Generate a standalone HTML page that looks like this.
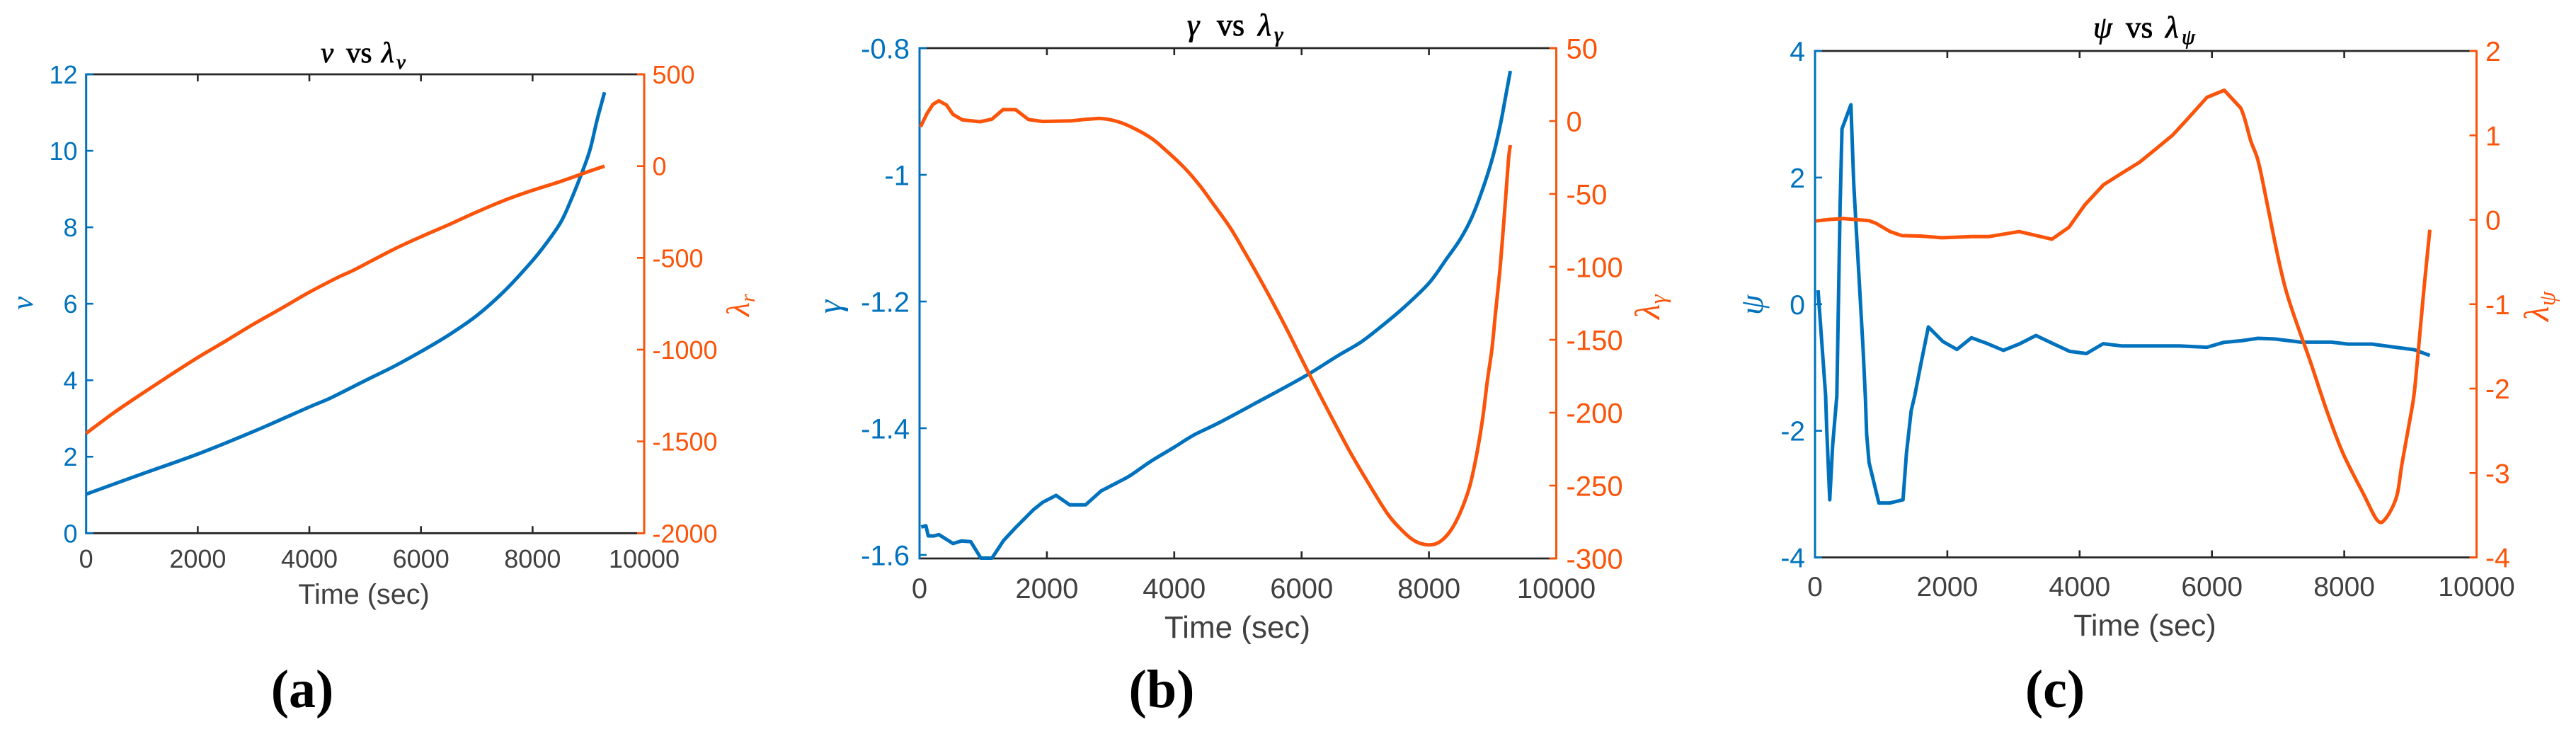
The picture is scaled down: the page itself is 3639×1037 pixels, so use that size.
<!DOCTYPE html>
<html lang="en">
<head>
<meta charset="utf-8">
<title>State and costate histories</title>
<style>
html,body{margin:0;padding:0;background:#fff;width:3639px;height:1037px;overflow:hidden}
svg{display:block;position:absolute;left:0;top:0}
text{font-family:"Liberation Sans",Arial,sans-serif}
.m{font-family:"Liberation Serif","DejaVu Serif",serif}
.i{font-style:italic}
</style>
</head>
<body>
<svg id="figure" xmlns="http://www.w3.org/2000/svg" width="3639" height="1037" viewBox="0 0 3639 1037">
  <rect width="3639" height="1037" fill="#fff"/>

  <text class="m" y="88" font-size="41" fill="#000" stroke="#000" stroke-width=".8"><tspan class="i" x="453">v</tspan><tspan x="489">vs</tspan><tspan class="i" x="539">λ</tspan><tspan class="i" x="560" dy="9" font-size="29">v</tspan></text>
  <text class="m" y="50" font-size="44" fill="#000" stroke="#000" stroke-width=".8"><tspan class="i" x="1677">γ</tspan><tspan x="1719">vs</tspan><tspan class="i" x="1777">λ</tspan><tspan class="i" x="1800" dy="9" font-size="31">γ</tspan></text>
  <text class="m" y="53" font-size="43" fill="#000" stroke="#000" stroke-width=".8"><tspan class="i" x="2957">ψ</tspan><tspan x="3003">vs</tspan><tspan class="i" x="3059">λ</tspan><tspan class="i" x="3082" dy="9" font-size="30">ψ</tspan></text>

  <text class="m i" transform="translate(46 438) rotate(-90)" font-size="43" fill="#0072bd">v</text>
  <text class="m i" transform="translate(1058 447) rotate(-90)" font-size="46" fill="#fb540a">λ<tspan dy="8" font-size="30">r</tspan></text>
  <text class="m i" transform="translate(1188 443) rotate(-90)" font-size="48" fill="#0072bd">γ</text>
  <text class="m i" transform="translate(2344 451) rotate(-90)" font-size="50" fill="#fb540a">λ<tspan dy="9" font-size="33">γ</tspan></text>
  <text class="m i" transform="translate(2490 445) rotate(-90)" font-size="46" fill="#0072bd">ψ</text>
  <text class="m i" transform="translate(3600 454) rotate(-90)" font-size="50" fill="#fb540a">λ<tspan dy="9" font-size="33">ψ</tspan></text>

  <text x="514" y="853" text-anchor="middle" font-size="39.6" fill="#404040">Time (sec)</text>
  <text x="1748" y="901" text-anchor="middle" font-size="44" fill="#404040">Time (sec)</text>
  <text x="3030" y="898" text-anchor="middle" font-size="43" fill="#404040">Time (sec)</text>

  <text class="m" x="427" y="999" text-anchor="middle" font-size="76" font-weight="700" fill="#000">(a)</text>
  <text class="m" x="1641" y="999" text-anchor="middle" font-size="76" font-weight="700" fill="#000">(b)</text>
  <text class="m" x="2903" y="999" text-anchor="middle" font-size="76" font-weight="700" fill="#000">(c)</text>
</svg>
<script>
const xTickValues = [0, 2000, 4000, 6000, 8000, 10000];

const vTicks = [0, 2, 4, 6, 8, 10, 12];
const lambdaVTicks = [-2000, -1500, -1000, -500, 0, 500];
const gammaTicks = [-1.6, -1.4, -1.2, -1, -0.8];
const lambdaGammaTicks = [-300, -250, -200, -150, -100, -50, 0, 50];
const psiTicks = [-4, -2, 0, 2, 4];
const lambdaPsiTicks = [-4, -3, -2, -1, 0, 1, 2];

const vTime = [0, 1000, 2000, 3000, 4000, 4385, 5000, 5500, 6000, 6495, 7000, 7500, 8000, 8266, 8500, 8650, 8880, 9030, 9155, 9290];
const vValues = [1.02, 1.55, 2.07, 2.66, 3.3, 3.54, 3.99, 4.35, 4.75, 5.18, 5.69, 6.34, 7.13, 7.62, 8.12, 8.58, 9.41, 10.03, 10.8, 11.53];

const lambdaVTime = [0, 500, 1000, 1500, 2000, 2500, 3000, 3500, 4000, 4500, 4806, 5500, 6000, 6500, 7000, 7500, 8000, 8500, 9000, 9290];
const lambdaVValues = [-1456, -1343, -1240, -1140, -1043, -953, -861, -775, -687, -608, -565, -455, -385, -319, -250, -186, -132, -84, -30, 0];

const gammaTime = [26, 100, 137, 230, 304, 526, 656, 804, 963, 1137, 1322, 1507, 1785, 1933, 2144, 2359, 2607, 2852, 3119, 3304, 3637, 4000, 4304, 4711, 5341, 5711, 6119, 6563, 6933, 7267, 7600, 8000, 8267, 8489, 8674, 8859, 9007, 9119, 9211, 9278];
const gammaValues = [-1.556, -1.554, -1.57, -1.57, -1.568, -1.582, -1.578, -1.579, -1.605, -1.605, -1.577, -1.557, -1.529, -1.517, -1.506, -1.521, -1.521, -1.499, -1.485, -1.475, -1.452, -1.43, -1.411, -1.391, -1.357, -1.337, -1.314, -1.286, -1.264, -1.238, -1.21, -1.171, -1.134, -1.102, -1.067, -1.018, -0.97, -0.922, -0.873, -0.836];

const lambdaGammaTime = [15, 119, 211, 304, 422, 526, 674, 952, 1137, 1311, 1507, 1711, 1933, 2378, 2600, 2822, 3081, 3341, 3637, 3859, 4156, 4396, 4600, 4878, 5119, 5341, 5563, 5785, 6081, 6415, 6748, 7007, 7341, 7563, 7767, 7970, 8156, 8333, 8489, 8637, 8748, 8841, 8915, 8989, 9044, 9119, 9193, 9248, 9278];
const lambdaGammaValues = [-4, 5.3, 11.5, 13.9, 11, 4.5, 0.8, -0.5, 1.3, 7.8, 7.8, 1, -0.3, 0.1, 1.1, 1.8, 0, -4.4, -11.7, -19.7, -31.9, -44, -56.1, -73.1, -90.9, -107.9, -125.7, -144.3, -170.2, -198.5, -225.9, -245.3, -268.8, -280.1, -287.7, -290.6, -289, -281.3, -268.8, -251, -229.1, -204.9, -179, -156.3, -132.2, -99.8, -59.4, -27, -16.5];

const psiTime = [46, 160, 177, 223, 266, 330, 379, 408, 543, 585, 631, 674, 727, 762, 780, 816, 965, 1135, 1330, 1383, 1454, 1507, 1596, 1713, 1933, 2145, 2365, 2589, 2848, 3085, 3340, 3582, 3848, 4103, 4355, 4645, 5011, 5513, 5925, 6176, 6444, 6695, 6946, 7341, 7806, 8057, 8416, 8774, 9061, 9294];
const psiValues = [0.22, -1.45, -1.97, -3.09, -2.23, -1.45, 1.53, 2.77, 3.15, 1.9, 1.04, 0.26, -0.71, -1.49, -2.05, -2.5, -3.14, -3.14, -3.09, -2.35, -1.68, -1.45, -0.97, -0.36, -0.59, -0.715, -0.53, -0.615, -0.73, -0.63, -0.495, -0.615, -0.745, -0.78, -0.625, -0.66, -0.66, -0.66, -0.68, -0.604, -0.577, -0.54, -0.55, -0.6, -0.6, -0.63, -0.63, -0.68, -0.72, -0.81];

const lambdaPsiTime = [10, 213, 426, 816, 922, 1135, 1312, 1596, 1915, 2376, 2624, 3085, 3582, 3837, 4078, 4362, 4645, 4903, 5190, 5405, 5620, 5925, 6186, 6434, 6588, 6695, 6803, 6946, 7054, 7143, 7305, 7484, 7735, 7983, 8292, 8500, 8625, 8792, 8875, 9018, 9061, 9122, 9204, 9294];
const lambdaPsiValues = [-0.014, 0.003, 0.014, -0.011, -0.042, -0.14, -0.188, -0.193, -0.213, -0.2, -0.2, -0.14, -0.23, -0.09, 0.176, 0.415, 0.555, 0.68, 0.863, 1.003, 1.185, 1.451, 1.535, 1.325, 0.933, 0.708, 0.317, -0.244, -0.636, -0.9, -1.28, -1.672, -2.26, -2.77, -3.25, -3.56, -3.54, -3.28, -2.88, -2.26, -2.03, -1.53, -0.83, -0.118];

const BLUE = '#0072bd';
const ORANGE = '#fb540a';
const BLACK = '#262626';
const GREY = '#404040';
const NS = 'http://www.w3.org/2000/svg';
const svg = document.getElementById('figure');

function scale(d0, d1, r0, r1) {
  return function (v) { return r0 + (v - d0) * (r1 - r0) / (d1 - d0); };
}

function line(x1, y1, x2, y2, color, width) {
  const el = document.createElementNS(NS, 'line');
  el.setAttribute('x1', x1);
  el.setAttribute('y1', y1);
  el.setAttribute('x2', x2);
  el.setAttribute('y2', y2);
  el.setAttribute('stroke', color);
  el.setAttribute('stroke-width', width);
  return el;
}

function label(x, y, str, anchor, size, color) {
  const el = document.createElementNS(NS, 'text');
  el.setAttribute('x', x);
  el.setAttribute('y', y);
  el.setAttribute('text-anchor', anchor);
  el.setAttribute('font-size', size);
  el.setAttribute('fill', color);
  el.textContent = str;
  return el;
}

/* Straight segments for early, kinked samples; Catmull-Rom from smoothFrom onward. */
function series(times, values, xs, ys, color, smoothFrom) {
  const pts = times.map(function (t, i) { return [xs(t), ys(values[i]), t]; });
  let d = 'M' + pts[0][0].toFixed(1) + ' ' + pts[0][1].toFixed(1);
  for (let i = 1; i < pts.length; i++) {
    const p1 = pts[i - 1];
    const p2 = pts[i];
    if (p1[2] >= smoothFrom) {
      const p0 = pts[Math.max(i - 2, 0)];
      const p3 = pts[Math.min(i + 1, pts.length - 1)];
      const c1x = p1[0] + (p2[0] - p0[0]) / 6;
      const c1y = p1[1] + (p2[1] - p0[1]) / 6;
      const c2x = p2[0] - (p3[0] - p1[0]) / 6;
      const c2y = p2[1] - (p3[1] - p1[1]) / 6;
      d += ' C' + c1x.toFixed(1) + ' ' + c1y.toFixed(1) + ' ' + c2x.toFixed(1) + ' ' + c2y.toFixed(1) + ' ' + p2[0].toFixed(1) + ' ' + p2[1].toFixed(1);
    } else {
      d += ' L' + p2[0].toFixed(1) + ' ' + p2[1].toFixed(1);
    }
  }
  const el = document.createElementNS(NS, 'path');
  el.setAttribute('d', d);
  el.setAttribute('fill', 'none');
  el.setAttribute('stroke', color);
  el.setAttribute('stroke-width', 5);
  el.setAttribute('stroke-linejoin', 'round');
  return el;
}

function drawPanel(p) {
  const xs = scale(0, 10000, p.left, p.right);
  const yl = scale(p.leftMin, p.leftMax, p.bottom, p.top);
  const yr = scale(p.rightMin, p.rightMax, p.bottom, p.top);
  const half = p.fontSize * 0.36;
  const tick = 10;

  const topAxis = line(p.left, p.top, p.right, p.top, BLACK, 2.8);
  
  
  svg.appendChild(topAxis);

  const bottomAxis = line(p.left, p.bottom, p.right, p.bottom, BLACK, 2.8);
  
  
  svg.appendChild(bottomAxis);

  xTickValues.forEach(function (v) {
    const bt = line(xs(v), p.bottom, xs(v), p.bottom - tick, BLACK, 2.6);
    
    
    svg.appendChild(bt);
    const tt = line(xs(v), p.top, xs(v), p.top + tick, BLACK, 2.6);
    
    
    svg.appendChild(tt);
    const tl = label(xs(v), p.xLabelY, String(v), 'middle', p.fontSize, GREY);
    
    
    svg.appendChild(tl);
  });

  const leftAxis = line(p.left, p.top - 1.4, p.left, p.bottom + 1.4, BLUE, 3);
  
  
  svg.appendChild(leftAxis);

  const rightAxis = line(p.right, p.top - 1.4, p.right, p.bottom + 1.4, ORANGE, 3);
  
  
  svg.appendChild(rightAxis);

  p.leftTicks.forEach(function (v) {
    const t = line(p.left, yl(v), p.left + tick, yl(v), BLUE, 2.6);
    
    
    svg.appendChild(t);
    const tl = label(p.leftLabelX, yl(v) + half, String(v), 'end', p.fontSize, BLUE);
    
    
    svg.appendChild(tl);
  });

  p.rightTicks.forEach(function (v) {
    const t = line(p.right, yr(v), p.right - tick, yr(v), ORANGE, 2.6);
    
    
    svg.appendChild(t);
    const tl = label(p.rightLabelX, yr(v) + half, String(v), 'start', p.fontSize, ORANGE);
    
    
    svg.appendChild(tl);
  });

  const stateLine = series(p.stateTime, p.stateValues, xs, yl, BLUE, p.stateSmoothFrom);
  
  
  svg.appendChild(stateLine);

  const costateLine = series(p.costateTime, p.costateValues, xs, yr, ORANGE, p.costateSmoothFrom);
  
  
  svg.appendChild(costateLine);
}

drawPanel({
  id: 'a', left: 121.7, right: 910, top: 105, bottom: 753.3,
  leftMin: 0, leftMax: 12, rightMin: -2000, rightMax: 500,
  leftTicks: vTicks, rightTicks: lambdaVTicks,
  stateTime: vTime, stateValues: vValues, stateSmoothFrom: 0,
  costateTime: lambdaVTime, costateValues: lambdaVValues, costateSmoothFrom: 0,
  fontSize: 36, xLabelY: 802, leftLabelX: 109.5, rightLabelX: 921.5
});

drawPanel({
  id: 'b', left: 1299, right: 2198.5, top: 68, bottom: 789,
  leftMin: -1.6056, leftMax: -0.8, rightMin: -300, rightMax: 50,
  leftTicks: gammaTicks, rightTicks: lambdaGammaTicks,
  stateTime: gammaTime, stateValues: gammaValues, stateSmoothFrom: 3119,
  costateTime: lambdaGammaTime, costateValues: lambdaGammaValues, costateSmoothFrom: 2822,
  fontSize: 40, xLabelY: 845, leftLabelX: 1285, rightLabelX: 2212.5
});

drawPanel({
  id: 'c', left: 2564, right: 3498.5, top: 72, bottom: 787.5,
  leftMin: -4, leftMax: 4, rightMin: -4, rightMax: 2,
  leftTicks: psiTicks, rightTicks: lambdaPsiTicks,
  stateTime: psiTime, stateValues: psiValues, stateSmoothFrom: 99999,
  costateTime: lambdaPsiTime, costateValues: lambdaPsiValues, costateSmoothFrom: 6434,
  fontSize: 39, xLabelY: 842, leftLabelX: 2550, rightLabelX: 3511
});
</script>
</body>
</html>
